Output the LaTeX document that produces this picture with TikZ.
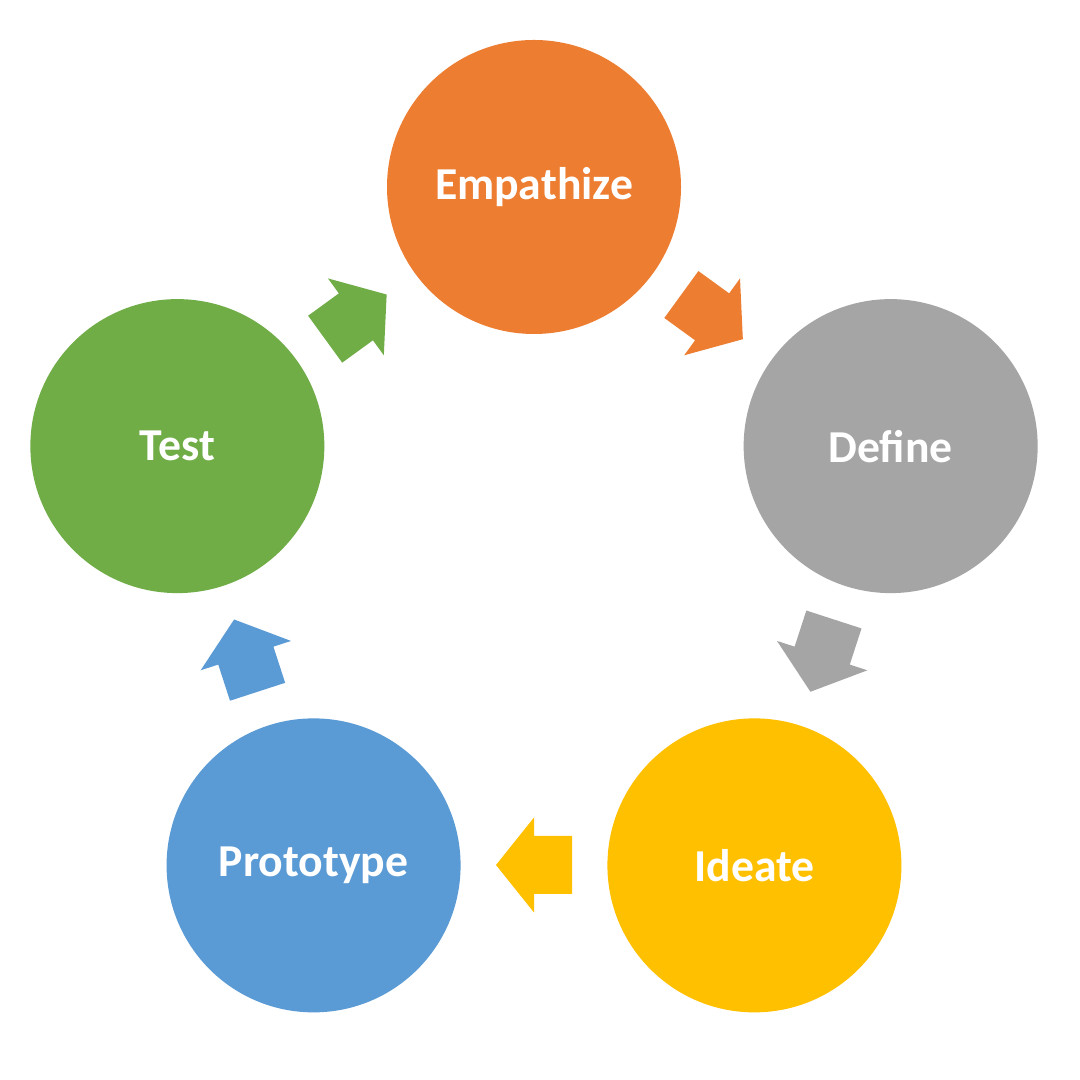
\documentclass[tikz,border=0pt]{standalone}
\usepackage{fontspec}
\setmainfont{Carlito}
\usepackage{xcolor}
\usepackage{tikz}
\definecolor{empathize}{HTML}{ED7D31}
\definecolor{define}{HTML}{A5A5A5}
\definecolor{ideate}{HTML}{FFC000}
\definecolor{prototype}{HTML}{5B9BD5}
\definecolor{test}{HTML}{70AD47}

\tikzset{
  stage/.style={circle, minimum size=2.94cm, inner sep=0pt, text=white, font=\fontsize{13}{15}\selectfont\bfseries},
  flowarrow/.pic={\fill (-0.38,-0.29) -- (0,-0.29) -- (0,-0.475) -- (0.38,0) -- (0,0.475) -- (0,0.29) -- (-0.38,0.29) -- cycle;}
}

\begin{document}
\begin{tikzpicture}
  \useasboundingbox[fill=white] (0,0) rectangle (10.8,10.8);
  \coordinate (hub) at (5.34,5.18);
  \node[stage, fill=empathize] (empathize) at ([shift={(90:3.75)}]hub) {Empathize};
  \node[stage, fill=define] (define) at ([shift={(18:3.75)}]hub) {Define};
  \node[stage, fill=ideate] (ideate) at ([shift={(-54:3.75)}]hub) {Ideate};
  \node[stage, fill=prototype] (prototype) at ([shift={(-126:3.75)}]hub) {Prototype};
  \node[stage, fill=test] (test) at ([shift={(162:3.75)}]hub) {Test};
  \pic[fill=empathize, rotate=-36] at ([shift={(54:3.03)}]hub) {flowarrow};
  \pic[fill=define, rotate=-108] at ([shift={(-18:3.03)}]hub) {flowarrow};
  \pic[fill=ideate, rotate=180] at ([shift={(-90:3.03)}]hub) {flowarrow};
  \pic[fill=prototype, rotate=108] at ([shift={(-162:3.03)}]hub) {flowarrow};
  \pic[fill=test, rotate=36] at ([shift={(126:3.03)}]hub) {flowarrow};
\end{tikzpicture}
\end{document}
